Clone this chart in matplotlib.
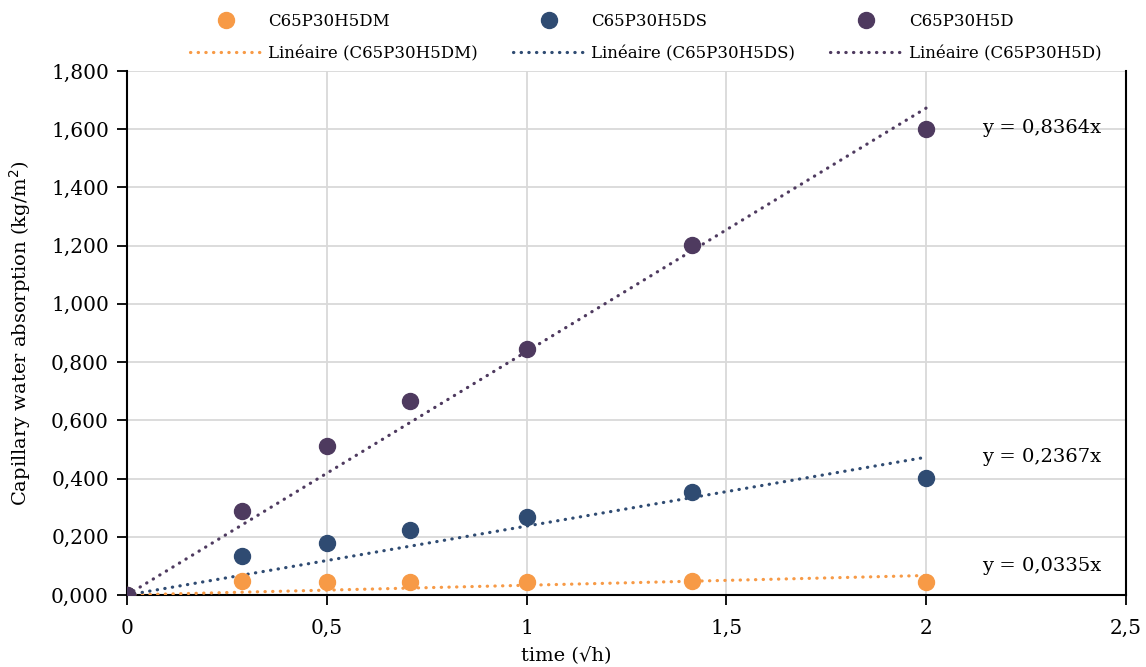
import numpy as np
import matplotlib
matplotlib.use("Agg")
import matplotlib.pyplot as plt
from matplotlib.ticker import FuncFormatter

plt.rcParams['font.family'] = ['DejaVu Serif']

# Data
time_sqrt_h = [0, 0.289, 0.5, 0.707, 1.0, 1.414, 2.0]
series_names = ["C65P30H5DM", "C65P30H5DS", "C65P30H5D"]
absorption_DM = [0.0, 0.048, 0.046, 0.046, 0.046, 0.047, 0.046]
absorption_DS = [0.0, 0.134, 0.179, 0.223, 0.268, 0.354, 0.401]
absorption_D = [0.0, 0.289, 0.511, 0.667, 0.845, 1.203, 1.601]
slopes = [0.0335, 0.2367, 0.8364]
equation_labels = ["y = 0,0335x", "y = 0,2367x", "y = 0,8364x"]
x_ticks = [0, 0.5, 1, 1.5, 2, 2.5]
y_ticks = [0, 0.2, 0.4, 0.6, 0.8, 1.0, 1.2, 1.4, 1.6, 1.8]

colors = ["#F79A46", "#2F4B72", "#4E3A5F"]
series_values = [absorption_DM, absorption_DS, absorption_D]

fig = plt.figure(figsize=(11.46, 6.67), dpi=100)
ax = fig.add_axes([127/1146, 1 - 595/667, (1126-127)/1146, (595-71)/667])

handles = []
fit_x = np.array([0.0, max(time_sqrt_h)])
for name, vals, slope, c in zip(series_names, series_values, slopes, colors):
    h1, = ax.plot(time_sqrt_h, vals, linestyle='none', marker='o', ms=11.5,
                  color=c, label=name, zorder=4)
    h2, = ax.plot(fit_x, slope * fit_x, linestyle=(0, (0.1, 2.3)), lw=2.3,
                  dash_capstyle='round', color=c, label=f"Linéaire ({name})", zorder=3)
    handles += [h1, h2]

ax.set_xlim(0, 2.5)
ax.set_ylim(0, 1.8)
ax.set_xticks(x_ticks)
ax.set_yticks(y_ticks)
ax.xaxis.set_major_formatter(FuncFormatter(lambda v, p: f"{v:g}".replace('.', ',')))
ax.yaxis.set_major_formatter(FuncFormatter(lambda v, p: f"{v:.3f}".replace('.', ',')))
ax.tick_params(axis='both', labelsize=14.5, direction='out', length=7, width=1.3,
               color='black', pad=6)
ax.tick_params(axis='x', pad=10)
ax.grid(True, color='#D9D9D9', lw=1.3, zorder=0)
ax.set_axisbelow(True)
for s in ['left', 'bottom', 'right']:
    ax.spines[s].set_color('black')
    ax.spines[s].set_linewidth(1.5)
ax.spines['top'].set_visible(False)

ax.set_ylabel("Capillary water absorption (kg/m$^{2}$)", fontsize=14)
ax.yaxis.set_label_coords(-0.094, 0.5)
ax.set_xlabel("time (√h)", fontsize=14)
ax.xaxis.set_label_coords(0.44, -0.097)

# equation labels
eq_y = [0.10, 0.475, 1.605]
for lab, yy in zip(equation_labels, eq_y):
    ax.text(2.29, yy, lab, fontsize=14, ha='center', va='center', zorder=5)

fig.legend(handles=handles, ncol=3, loc='upper left',
           bbox_to_anchor=(175/1146, 1.003), frameon=False, fontsize=12,
           handlelength=4.3, columnspacing=2.1, labelspacing=0.9, handletextpad=0.4)

fig.savefig("out.png", dpi=100)
